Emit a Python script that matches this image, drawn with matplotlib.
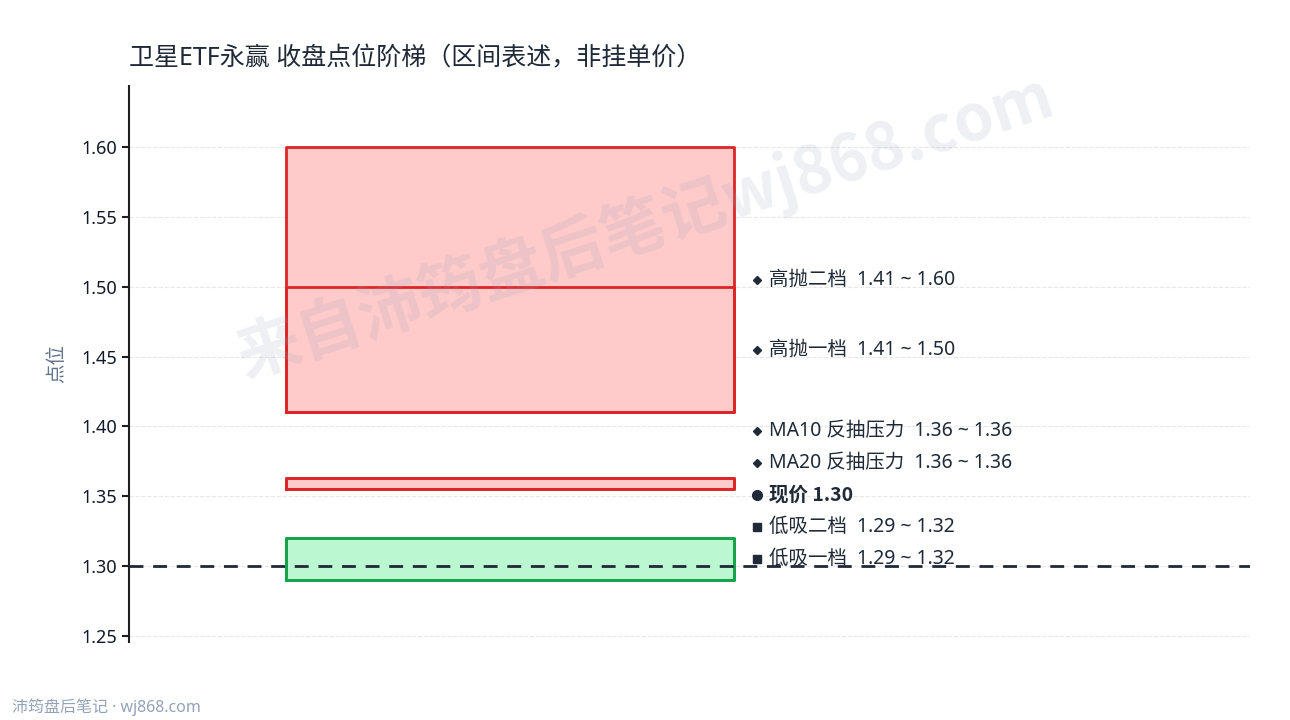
import matplotlib

matplotlib.use("Agg")
import matplotlib.pyplot as plt

plt.rcParams["font.family"] = ["Noto Sans", "Noto Sans CJK SC", "DejaVu Sans"]
plt.rcParams["axes.unicode_minus"] = False
BOLD_FAMILY = ["Noto Sans CJK SC", "DejaVu Sans"]

# zones: name, low, high, kind
zone_names = ["高抛二档", "高抛一档", "MA10 反抽压力", "MA20 反抽压力", "低吸二档", "低吸一档"]
zone_low = [1.41, 1.41, 1.355, 1.355, 1.29, 1.29]
zone_high = [1.60, 1.50, 1.363, 1.363, 1.32, 1.32]
zone_text = ["1.41 ~ 1.60", "1.41 ~ 1.50", "1.36 ~ 1.36", "1.36 ~ 1.36",
             "1.29 ~ 1.32", "1.29 ~ 1.32"]
zone_kind = ["sell", "sell", "sell", "sell", "buy", "buy"]
current_price = 1.30

title = "卫星ETF永赢 收盘点位阶梯（区间表述，非挂单价）"
yticks = [1.25, 1.30, 1.35, 1.40, 1.45, 1.50, 1.55, 1.60]

STYLE = {
    "sell": dict(face="#fecaca", edge="#dc2626", marker="D"),
    "buy": dict(face="#bbf7d0", edge="#16a34a", marker="s"),
}
TEXT = "#1f2937"

fig = plt.figure(figsize=(12.9, 7.2), dpi=100)
ax = fig.add_axes([0.1, 0.108, 0.869, 0.773])

box_x0, box_x1 = 0.14, 0.54
for lo, hi, kind in zip(zone_low, zone_high, zone_kind):
    st = STYLE[kind]
    ax.fill_between([box_x0, box_x1], lo, hi, facecolor=st["face"],
                    edgecolor="none", zorder=2)
    ax.plot([box_x0, box_x1, box_x1, box_x0, box_x0], [lo, lo, hi, hi, lo],
            color=st["edge"], lw=2, zorder=3)

ax.axhline(current_price, color="#1f2937", lw=2, ls=(0, (5, 3.5)), zorder=4)

# label list, top to bottom, then nudge apart from the bottom up
labels = []
for name, lo, hi, txt, kind in zip(zone_names, zone_low, zone_high, zone_text, zone_kind):
    labels.append([(lo + hi) / 2, f"{name}  {txt}", STYLE[kind]["marker"], "normal"])
labels.insert(4, [current_price, f"现价 {current_price:.2f}", "o", "bold"])

gap = 0.023
ypos = [lab[0] for lab in labels]
for i in range(len(ypos) - 2, -1, -1):
    ypos[i] = max(ypos[i], ypos[i + 1] + gap)

lx = 0.56
for (c, txt, mk, wt), y in zip(labels, ypos):
    ms = 4.5 if mk == "D" else (7 if mk == "o" else 6)
    ax.plot([lx], [y], marker=mk, color=TEXT, ms=ms, ls="none",
            clip_on=False, zorder=5)
    kw = dict(family=BOLD_FAMILY) if wt == "bold" else {}
    ax.text(lx + 0.0105, y, txt, fontsize=14, color=TEXT, va="center",
            ha="left", fontweight=wt, zorder=5, **kw)

ax.set_xlim(0, 1)
ax.set_ylim(1.2457, 1.6437)
ax.set_yticks(yticks)
ax.set_yticklabels([f"{t:.2f}" for t in yticks], fontsize=13, color="#111827")
ax.set_xticks([])
ax.grid(axis="y", color="#e5e7eb", ls="--", lw=0.8, zorder=0)
for s in ["top", "right", "bottom"]:
    ax.spines[s].set_visible(False)
ax.spines["left"].set_color("#1f1f1f")
ax.spines["left"].set_linewidth(1.5)
ax.tick_params(axis="y", length=5, width=1.5, color="#1f1f1f")
ax.set_ylabel("点位", fontsize=14, color="#64748b", labelpad=10)

fig.text(0.1, 0.918, title, fontsize=18, color=TEXT, ha="left", va="center")
fig.text(0.5, 0.685, "来自沛筠盘后笔记wj868.com", fontsize=46, fontweight="bold",
         family=BOLD_FAMILY, color="#94a3b8", alpha=0.16, rotation=18,
         ha="center", va="center", zorder=10)
fig.text(0.009, 0.018, "沛筠盘后笔记 · wj868.com", fontsize=11.5,
         color="#94a3b8", ha="left", va="center")

fig.savefig("out.png", dpi=100)
